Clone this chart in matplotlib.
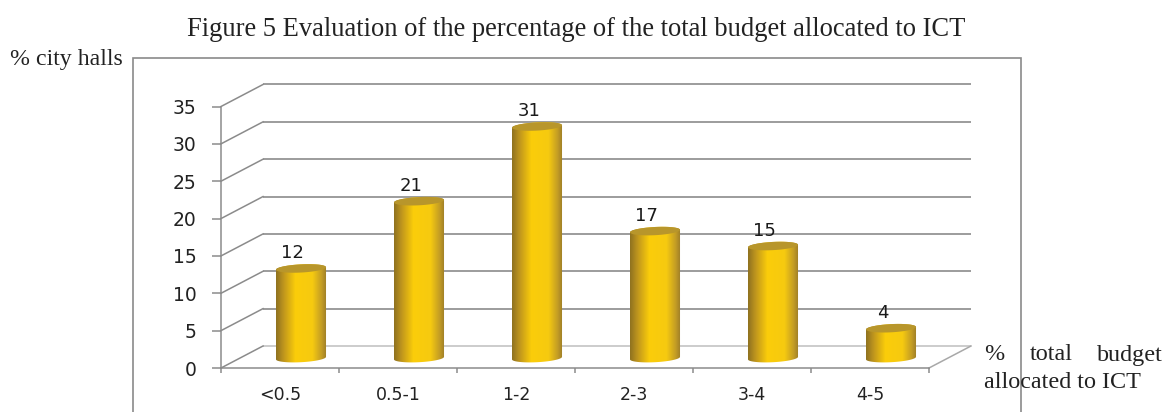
import numpy as np
import matplotlib
matplotlib.use('Agg')
import matplotlib.pyplot as plt
from matplotlib.colors import LinearSegmentedColormap
from matplotlib.patches import Polygon, Rectangle

categories = ['<0.5', '0.5-1', '1-2', '2-3', '3-4', '4-5']
values = [12, 21, 31, 17, 15, 4]
y_ticks = [0, 5, 10, 15, 20, 25, 30, 35]

W, H = 1170, 412
GRID = '#8b8b8b'
SERIF = 'Liberation Serif'

# depth of the floor, in axis units
DEPTH_X = 42 / 118
DEPTH_Y = 22 / 7.47
BAR_HALF = 0.212
CAP_Y = 0.55
CAP_TILT = 0.17

metal = LinearSegmentedColormap.from_list('metal', [
    (0.0, '#8f7220'), (0.14, '#bd941e'), (0.38, '#fbcd0a'),
    (0.72, '#f6ca10'), (0.9, '#c39c25'), (1.0, '#9c7c28')])


def ellipse(cx, cy, start, stop, n=40):
    t = np.linspace(start, stop, n)
    return np.column_stack([cx + BAR_HALF * np.cos(t),
                            cy + CAP_Y * np.sin(t) + CAP_TILT * np.cos(t)])


def cylinder(ax, x, value):
    cx = x + DEPTH_X / 2
    base = DEPTH_Y * 0.45
    top = base + value
    outline = np.vstack([ellipse(cx, top, 0, np.pi),
                         ellipse(cx, base, np.pi, 2 * np.pi)])
    clip = Polygon(outline, closed=True, transform=ax.transData, fc='none', ec='none')
    ax.add_patch(clip)
    img = ax.imshow(np.linspace(0, 1, 128)[None, :], cmap=metal, aspect='auto',
                    extent=[cx - BAR_HALF, cx + BAR_HALF, base - 1, top + 1], zorder=3)
    img.set_clip_path(clip)
    ax.add_patch(Polygon(ellipse(cx, top, 0, 2 * np.pi), closed=True,
                         fc='#b8962b', ec='none', zorder=4))
    ax.annotate(str(value), (cx, top), xytext=(-6, 4.5), textcoords='offset points',
                ha='center', va='bottom', fontsize=13, color='#1a1a1a', zorder=5)


fig = plt.figure(figsize=(W / 100, H / 100), dpi=100)
ax = fig.add_axes([221 / W, (H - 368) / H, 708 / W, 261.5 / H])
ax.set_xlim(-0.5, 5.5)
ax.set_ylim(0, 35)
ax.set_autoscale_on(False)

# back wall and the slanted lines joining it to the value axis
x_left, x_right = -0.5, 5.5
for v in y_ticks:
    c = '#c4c4c4' if v == 0 else GRID
    ax.plot([x_left + DEPTH_X, x_right + DEPTH_X], [v + DEPTH_Y] * 2, color=c,
            lw=1.2, clip_on=False, zorder=1, solid_capstyle='butt')
    ax.plot([x_left, x_left + DEPTH_X], [v, v + DEPTH_Y], color=GRID,
            lw=1.1, clip_on=False, zorder=1)
ax.plot([x_right, x_right + DEPTH_X], [0, DEPTH_Y], color='#a8a8a8', lw=1.1,
        clip_on=False, zorder=1)

for i, v in enumerate(values):
    cylinder(ax, i, v)

for name in ['top', 'right']:
    ax.spines[name].set_visible(False)
for name in ['left', 'bottom']:
    ax.spines[name].set_color(GRID)
    ax.spines[name].set_linewidth(1.1)

ax.set_yticks(y_ticks)
ax.set_xticks(np.arange(-0.5, 6))
ax.set_xticklabels([])
ax.set_xticks(np.arange(6), labels=categories, minor=True)
ax.tick_params(axis='y', length=6.5, width=1.1, color=GRID, pad=11,
               labelsize=13.5, labelcolor='#222222')
ax.tick_params(axis='x', which='major', length=3.6, width=1.1, color=GRID)
ax.tick_params(axis='x', which='minor', length=0, pad=13, labelsize=12.5,
               labelcolor='#222222')

# outer frame, open at the bottom edge
frame = fig.add_artist(Rectangle((133 / W, -0.05), (1020.5 - 133) / W,
                                 1.05 - 58 / H, transform=fig.transFigure,
                                 fc='none', ec='#8a8a8a', lw=1.2, zorder=0))


def label(x, y, s, ha='left', size=17.4):
    fig.text(x / W, 1 - y / H, s, ha=ha, va='center', family=SERIF,
             fontsize=size, color='#222222')


label(576.5, 29, 'Figure 5 Evaluation of the percentage of the total budget allocated to ICT', ha='center', size=19.1)
label(10, 59, '% city halls', size=17.2)
label(984, 355, '%')
label(1030, 355, 'total')
label(1097, 355, 'budget')
label(984, 383, 'allocated to ICT')

fig.savefig('out.png', dpi=100)
